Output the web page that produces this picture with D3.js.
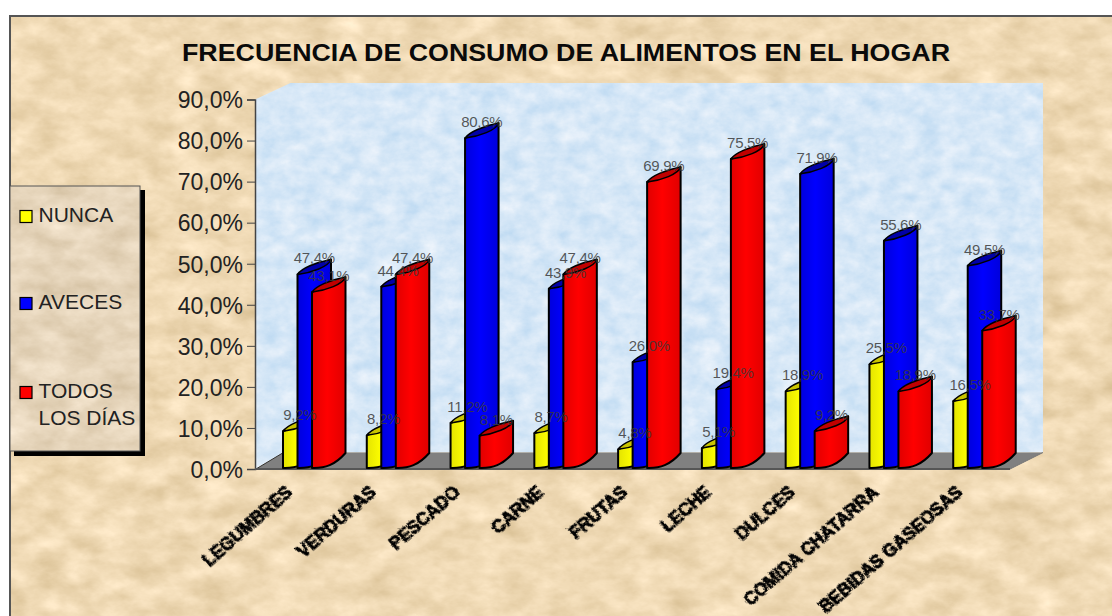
<!DOCTYPE html>
<html lang="es">
<head>
<meta charset="utf-8">
<script src="https://cdnjs.cloudflare.com/ajax/libs/d3/7.8.5/d3.min.js"></script>
<style>
html,body{margin:0;padding:0;background:#fff;overflow:hidden}
svg{display:block}
text{font-family:"Liberation Sans",Arial,sans-serif}
</style>
</head>
<body>
<svg id="chart" width="1112" height="616"></svg>
<script>
const title = "FRECUENCIA DE CONSUMO DE ALIMENTOS EN EL HOGAR";
const categories = ["LEGUMBRES","VERDURAS","PESCADO","CARNE","FRUTAS","LECHE","DULCES","COMIDA CHATARRA","BEBIDAS GASEOSAS"];
const seriesNames = ["NUNCA","AVECES","TODOS LOS DÍAS"];
const nunca = [9.2,8.2,11.2,8.7,4.8,5.1,18.9,25.5,16.5];
const aveces = [47.4,44.4,80.6,43.9,26.0,19.4,71.9,55.6,49.5];
const todos = [43.1,47.4,8.1,47.4,69.9,75.5,9.2,18.9,33.7];
const seriesValues = [nunca,aveces,todos];
const seriesColors = ["#ffff00","#0000ff","#ff0000"];
const seriesTops = ["#c9c400","#0000a8","#c00000"];
const seriesEdges = ["#e4e400","#0000dc","#e00000"];
const yTicks = [0,10,20,30,40,50,60,70,80,90];

const svg = d3.select("#chart");
const W = 1112, H = 616;
const defs = svg.append("defs");

function texture(id, freq, seed, rgb, amp){
  const f = defs.append("filter").attr("id",id).attr("x",0).attr("y",0).attr("width","100%").attr("height","100%")
    .attr("color-interpolation-filters","sRGB");
  f.append("feTurbulence").attr("type","fractalNoise").attr("baseFrequency",freq).attr("numOctaves",5).attr("seed",seed).attr("result","n");
  f.append("feColorMatrix").attr("in","n").attr("type","matrix")
    .attr("values",[
      amp[0],amp[0]*0.4,0,0,rgb[0],
      amp[1],amp[1]*0.4,0,0,rgb[1],
      amp[2],amp[2]*0.4,0,0,rgb[2],
      0,0,0,0,1].join(" "));
}
texture("paper","0.03 0.05",7,[0.82,0.72,0.54],[0.17,0.19,0.24]);
texture("legendPaper","0.03 0.05",21,[0.79,0.71,0.58],[0.16,0.18,0.22]);
texture("ice","0.05 0.07",4,[0.70,0.83,0.94],[0.20,0.11,0.04]);
const rough = defs.append("filter").attr("id","rough").attr("x","-10%").attr("y","-10%").attr("width","120%").attr("height","120%");
rough.append("feTurbulence").attr("type","turbulence").attr("baseFrequency",0.6).attr("numOctaves",2).attr("seed",3).attr("result","t");
rough.append("feDisplacementMap").attr("in","SourceGraphic").attr("in2","t").attr("scale",3);

seriesColors.forEach((c,i)=>{
  const g = defs.append("linearGradient").attr("id","bar"+i);
  g.append("stop").attr("offset","0%").attr("stop-color",seriesEdges[i]);
  g.append("stop").attr("offset","45%").attr("stop-color",c);
  g.append("stop").attr("offset","100%").attr("stop-color",seriesEdges[i]);
});

// Layout
const frameL = 10, frameT = 16;
const x0 = 256, x1 = 1010, baseY = 469, topY = 99.5;
const depthX = 27.5, depthY = 16.5;
const wallRight = 1043;

const x = d3.scaleBand().domain(categories).range([x0,x1]);
const y = d3.scaleLinear().domain([0,90]).range([baseY,topY]);
const seriesOffset = d3.scaleLinear().domain([0,2]).range([27,56]);
const barW = 33.5, barRise = 15;

// Background + frame
svg.append("rect").attr("x",frameL).attr("y",frameT).attr("width",W-frameL).attr("height",H-frameT).attr("filter","url(#paper)");
svg.append("path").attr("d",`M${frameL},${H}V${frameT}H${W}`).attr("fill","none").attr("stroke","#555").attr("stroke-width",2);

// Title
svg.append("text").attr("x",566).attr("y",61).attr("text-anchor","middle")
  .attr("font-size",24.5).attr("font-weight","bold").attr("fill","#0a0a0a")
  .attr("textLength",768).attr("lengthAdjust","spacingAndGlyphs").text(title);

// Walls and floor
const wallTop = topY - depthY;
defs.append("clipPath").attr("id","wallClip").append("path")
  .attr("d",`M${x0-1},${baseY}L${x0-1},${topY}L${x0+depthX+7},${wallTop}H${wallRight}V${baseY-depthY}H${x0+depthX}Z`);
svg.append("rect").attr("x",x0-1).attr("y",wallTop).attr("width",wallRight-x0+1).attr("height",baseY-wallTop)
  .attr("filter","url(#ice)").attr("clip-path","url(#wallClip)");
svg.append("path").attr("d",`M${x0},${baseY}L${x0+depthX},${baseY-depthY}H${wallRight}L${x1},${baseY}Z`).attr("fill","#808080");
svg.append("path").attr("d",`M${x0},${baseY}L${x0+depthX},${baseY-depthY}`).attr("stroke","#333").attr("stroke-width",1).attr("fill","none");
svg.append("path").attr("d",`M${x1},${baseY}L${wallRight},${baseY-depthY}`).attr("stroke","#777").attr("stroke-width",1).attr("fill","none");

// Axis
const axis = d3.axisLeft(y).tickValues(yTicks).tickSize(8).tickPadding(4)
  .tickFormat(d=>d3.format(".1f")(d).replace(".",",")+"%");
const ax = svg.append("g").attr("transform",`translate(${x0-1},0)`).call(axis);
ax.select(".domain").attr("stroke","#444").attr("stroke-width",1.5);
ax.selectAll(".tick line").attr("stroke","#444").attr("stroke-width",1);
ax.selectAll(".tick text").attr("font-size",23).attr("font-family",'"Liberation Sans",Arial,sans-serif').attr("fill","#222").attr("dy","0.36em");
svg.append("line").attr("x1",x0-1).attr("x2",x1).attr("y1",baseY).attr("y2",baseY).attr("stroke","#555").attr("stroke-width",2);

// Bars
const barData = [];
categories.forEach((c,ci)=>seriesValues.forEach((vals,si)=>barData.push({c,si,v:vals[ci]})));
function bodyPath(d){
  const l = x(d.c)+seriesOffset(d.si), r = l+barW, t = y(d.v), b = y(0)-1;
  return `M${l},${t}V${b}C${l+13},${b+0.5} ${l+23},${b-3} ${r},${b-barRise}V${t-barRise}L${l},${t}Z`;
}
function capPath(d){
  const l = x(d.c)+seriesOffset(d.si), r = l+barW, t = y(d.v);
  return `M${l},${t}C${l+4},${t-6} ${l+18},${t-12} ${r},${t-barRise}C${r-2},${t-8} ${l+14},${t-1.5} ${l},${t}Z`;
}
const bars = svg.append("g").selectAll("g").data(barData).join("g");
bars.append("path").attr("d",bodyPath).attr("fill",d=>`url(#bar${d.si})`).attr("stroke","#000").attr("stroke-width",2).attr("stroke-linejoin","round");
bars.append("path").attr("d",capPath).attr("fill",d=>seriesTops[d.si]).attr("stroke","#000").attr("stroke-width",1.5).attr("stroke-linejoin","round");

// Data labels
svg.append("g").selectAll("text").data(barData).join("text")
  .attr("x",d=>x(d.c)+seriesOffset(d.si)+barW/2)
  .attr("y",d=>y(d.v)-11)
  .attr("text-anchor","middle").attr("font-size",15).attr("letter-spacing",-0.3).attr("fill","#3a3a3a").attr("fill-opacity",0.85)
  .text(d=>d3.format(".1f")(d.v).replace(".",",")+"%");

// Category labels
svg.append("g").selectAll("text").data(categories).join("text")
  .attr("transform",d=>`translate(${x(d)+36.5},494) rotate(-41)`)
  .attr("text-anchor","end").attr("font-size",17.5).attr("font-weight","bold").attr("fill","#000")
  .attr("stroke","#000").attr("stroke-width",0.9)
  .attr("filter","url(#rough)").text(d=>d);

// Legend
const lx = 10, ly = 186, lw = 130, lh = 265;
svg.append("rect").attr("x",lx+4).attr("y",ly+4).attr("width",lw+1).attr("height",lh+1).attr("fill","#000");
svg.append("rect").attr("x",lx).attr("y",ly).attr("width",lw).attr("height",lh).attr("filter","url(#legendPaper)");
svg.append("rect").attr("x",lx).attr("y",ly).attr("width",lw).attr("height",lh).attr("fill","none").attr("stroke","#555").attr("stroke-width",1);
const legendRows = d3.scaleOrdinal().domain(seriesNames).range([216.5,303.5,392.5]);
const lg = svg.append("g").selectAll("g").data(seriesNames).join("g");
lg.append("rect").attr("x",20).attr("y",d=>legendRows(d)-6).attr("width",12).attr("height",12)
  .attr("fill",(d,i)=>seriesColors[i]).attr("stroke","#000").attr("stroke-width",1.2);
lg.each(function(d){
  const g = d3.select(this);
  const words = d==="TODOS LOS DÍAS" ? ["TODOS","LOS DÍAS"] : [d];
  words.forEach((w,i)=>g.append("text").attr("x",38.5).attr("y",legendRows(d)+5+i*27)
    .attr("font-size",21).attr("fill","#222").text(w));
});
</script>
</body>
</html>
